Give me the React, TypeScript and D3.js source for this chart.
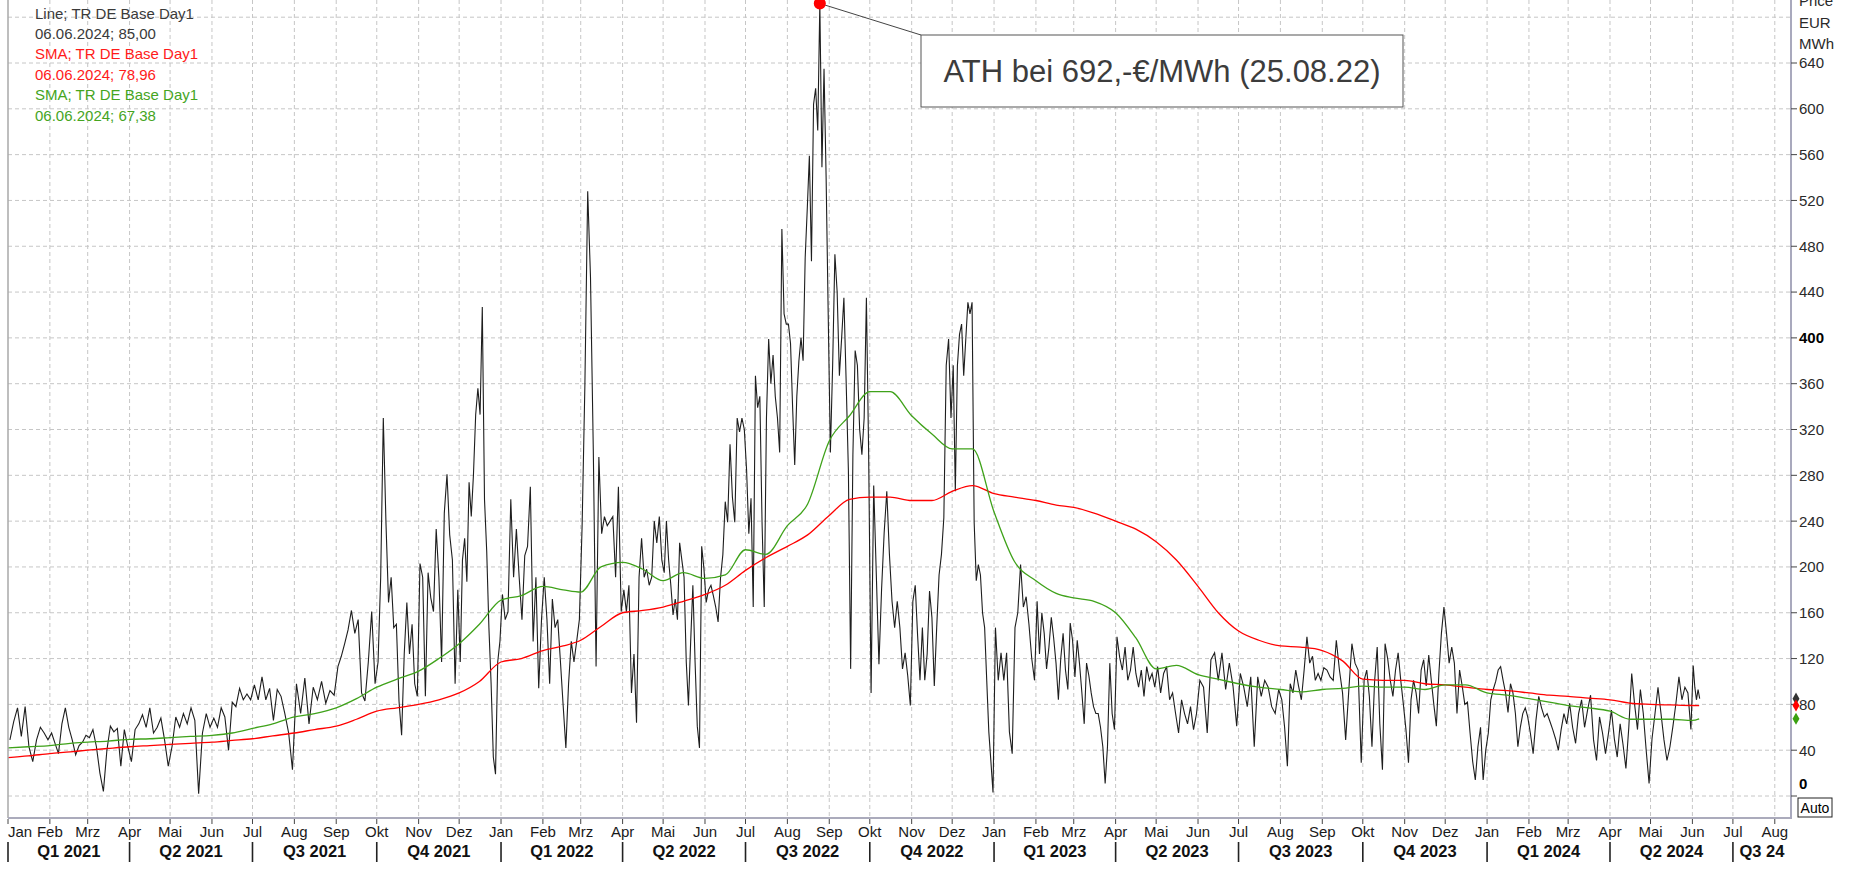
import React, { useEffect, useRef } from "react";
import * as d3 from "d3";

// TR DE Base Day1, daily prices, one list per month (Jan 2021 .. Jun 2024)
const priceStart = "2021-01";
const lastDay = "2024-06-06";
const priceValues: number[][] = [
  // 2021
  [49, 65, 77, 52, 78, 43, 30, 49, 60, 55, 49],
  [55, 46, 37, 63, 77, 60, 49, 36, 44, 47, 53],
  [51, 58, 43, 20, 4, 40, 61, 56, 59, 26, 58, 43],
  [30, 58, 63, 71, 60, 77, 55, 60, 68, 49, 26],
  [43, 69, 60, 72, 63, 77, 66, 2, 55, 72, 60],
  [68, 60, 77, 69, 40, 82, 78, 94, 84, 89, 84],
  [97, 84, 104, 84, 94, 66, 93, 87, 72, 55, 23],
  [98, 72, 103, 63, 95, 84, 100, 81, 92, 88],
  [113, 122, 133, 145, 162, 142, 154, 90, 83, 117, 161, 98],
  [117, 191, 330, 240, 169, 191, 147, 150, 83, 53, 124, 169, 124, 150, 98, 87],
  [203, 191, 87, 195, 173, 161, 233, 191, 117, 247, 281, 228, 206, 98, 180],
  [117, 206, 225, 187, 274, 244, 281, 333, 356, 333, 427, 259, 214, 147, 98, 34, 19, 117, 135],
  // 2022
  [176, 154, 161, 259, 191, 233, 191, 154, 210, 218, 270, 135, 191, 94, 154],
  [191, 154, 98, 172, 147, 154, 117, 79, 42, 98, 135, 117, 135, 154],
  [236, 360, 528, 453, 303, 113, 296, 229, 244, 236, 240, 244, 191, 270, 161],
  [180, 161, 184, 90, 124, 64, 191, 225, 191, 198, 184, 191, 240, 221, 244, 206],
  [195, 240, 206, 184, 158, 172, 154, 221, 206, 191, 117, 79, 135, 184, 117, 61, 42, 218, 199],
  [169, 180, 184, 175, 165, 152, 190, 211, 257, 239, 307, 261, 239, 330, 318, 330, 320],
  [284, 229, 260, 165, 367, 339, 349, 239, 165, 330, 399, 360, 385, 349, 330, 300, 495, 421, 412],
  [412, 395, 339, 289, 349, 380, 400, 380, 470, 513, 559, 467, 604, 618, 581, 692, 549, 635, 540, 420],
  [300, 376, 473, 440, 367, 400, 435, 362, 284, 111, 298, 389, 376, 320, 298, 330, 435, 298],
  [90, 271, 193, 115, 180, 230, 266, 211, 170, 147, 170, 147, 111, 125, 105, 79],
  [170, 184, 140, 101, 147, 101, 124, 179, 156, 96, 147, 193, 211, 243, 376, 399, 330],
  [376, 266, 376, 403, 412, 367, 399, 431, 421, 431, 239, 188, 202, 193, 160, 147, 101, 56, 30, 3],
  // 2023
  [147, 101, 125, 101, 125, 56, 37, 147, 160, 202, 165, 174, 150, 120, 101],
  [170, 124, 160, 142, 111, 130, 156, 138, 116, 84, 120, 142, 110, 93, 151, 136],
  [104, 136, 115, 90, 63, 116, 105, 90, 78, 72, 72, 60, 43, 11, 43, 116, 72, 58],
  [139, 121, 110, 130, 101, 110, 130, 107, 95, 110, 87, 113, 101, 107, 95],
  [113, 90, 107, 113, 84, 90, 72, 55, 84, 72, 63, 78, 58, 72],
  [101, 95, 55, 119, 125, 101, 125, 93, 116, 96, 61],
  [107, 95, 78, 104, 43, 104, 87, 101, 95, 78, 72, 93],
  [84, 60, 26, 98, 90, 110, 96, 84, 110, 139, 116, 122, 101, 107, 101],
  [112, 110, 104, 101, 136, 110, 90, 49, 92, 133, 116, 110, 29],
  [101, 110, 87, 43, 100, 130, 63, 23, 133, 120, 101, 87, 110, 125, 101, 80],
  [58, 29, 84, 101, 90, 72, 110, 119, 96, 123, 101, 80, 61, 107, 142, 165],
  [142, 116, 130, 116, 72, 110, 96, 80, 82, 55, 30, 14, 43, 60, 14, 40],
  // 2024
  [55, 84, 93, 100, 110, 113, 101, 90, 73, 98, 90, 72, 43, 60, 72, 77, 69],
  [55, 37, 66, 87, 77, 69, 72, 65, 58, 50, 40, 58, 72, 63],
  [81, 60, 46, 72, 84, 60, 75, 88, 49, 31, 69, 55, 37, 55],
  [75, 50, 34, 63, 45, 24, 60, 107, 80, 58, 93, 72, 40, 11],
  [50, 72, 95, 72, 49, 31, 43, 61, 81, 104, 84, 95, 90, 58],
  [114, 95, 84, 93, 85],
];

// moving averages, read on the 1st and 16th of each month (last: 01.06. and 06.06.2024)
const smaLong = [
  33.5, 35, 37, 38.5, 40, 41.5, 43, 44, 45, 46, 47, 48.5, 50, 52.5, 55, 58, 61, 67, 74, 77, 80, 84, 90, 100,
  117, 120, 127, 131, 136, 148, 160, 162, 165, 170, 176, 184, 197, 208, 218, 228, 245, 259, 261, 261, 258, 258, 266, 271,
  264, 261, 258, 254, 252, 247, 240, 233, 222, 206, 183, 160, 144, 136, 131, 130, 127, 118, 102, 101, 101, 98, 97, 95,
  93, 92, 90, 88, 87, 85.5, 84, 81, 80, 79.5, 79, 78.96,
];
const smaShort = [
  42, 43, 44, 46, 47, 48, 49.5, 50, 51, 52, 53, 55, 59, 63, 69, 72, 77, 85, 95, 102, 109, 120, 133, 150,
  171, 175, 183, 180, 178, 200, 204, 198, 188, 195, 190, 193, 215, 211, 236, 255, 310, 332, 353, 353, 332, 316, 303, 303,
  248, 205, 188, 177, 173, 170, 160, 138, 111, 114, 106, 102, 98, 95, 93, 91, 93, 94, 96, 95, 95, 93, 97, 97,
  90, 88, 85, 82, 79, 77, 74, 67, 67, 67, 66, 67.38,
];

const seriesNames = ["Line; TR DE Base Day1", "SMA; TR DE Base Day1", "SMA; TR DE Base Day1"];
const seriesLast = ["06.06.2024; 85,00", "06.06.2024; 78,96", "06.06.2024; 67,38"];
const lastValues = [85, 78.96, 67.38];

const monthNames = ["Jan", "Feb", "Mrz", "Apr", "Mai", "Jun", "Jul", "Aug", "Sep", "Okt", "Nov", "Dez"];
const yTicks = [0, 40, 80, 120, 160, 200, 240, 280, 320, 360, 400, 440, 480, 520, 560, 600, 640];
const boldTicks = [0, 400];
const unitLabels = ["Price", "EUR", "MWh"];

const athDate = "2022-08-25";
const athValue = 692;
const athText = "ATH bei 692,-€/MWh (25.08.22)";

const COLORS = ["#3a3a3a", "#ff1a1a", "#45a51e"];
const FONT = "'Liberation Sans', Arial, sans-serif";

const W = 1855;
const H = 890;

const App: React.FC = () => {
  const svgRef = useRef<SVGSVGElement>(null);

  useEffect(() => {
    const left = 8;
    const right = 1791;
    const bottom = 818;

    const svg = d3.select(svgRef.current);
    svg.selectAll("*").remove();

    const x = d3
      .scaleUtc()
      .domain([new Date(Date.UTC(2021, 0, 1)), new Date(Date.UTC(2024, 7, 13))])
      .range([left, right]);
    const y = d3.scaleLinear().domain([0, 640]).range([796, 63]);

    // daily points spread evenly over each month
    const first = d3.utcParse("%Y-%m")(priceStart) as Date;
    const endDay = d3.utcDay.offset(d3.utcParse("%Y-%m-%d")(lastDay) as Date, 1);
    const prices = priceValues.flatMap((vals, i) => {
      const start = d3.utcMonth.offset(first, i);
      const next = d3.utcMonth.offset(start, 1);
      const end = next > endDay ? endDay : next;
      return vals.map((v, j) => ({
        date: new Date(+start + ((j + 0.5) / vals.length) * (+end - +start)),
        value: v,
      }));
    });

    const smaDates = d3
      .utcMonths(first, new Date(Date.UTC(2024, 5, 1)))
      .flatMap((m) => [m, d3.utcDay.offset(m, 15)])
      .concat([new Date(Date.UTC(2024, 5, 1)), d3.utcDay.offset(endDay, -1)]);

    svg.append("rect").attr("width", W).attr("height", H).attr("fill", "#fff");

    // grid
    const grid = svg.append("g").attr("stroke", "#c6c6c6").attr("stroke-dasharray", "4,3");
    [...yTicks, 680].forEach((v) => {
      grid.append("line").attr("x1", left).attr("x2", right).attr("y1", y(v)).attr("y2", y(v));
    });
    const months = d3.utcMonths(first, new Date(Date.UTC(2024, 7, 2)));
    months.slice(1).forEach((m) => {
      grid.append("line").attr("x1", x(m)).attr("x2", x(m)).attr("y1", 0).attr("y2", bottom);
    });

    // series
    svg
      .append("clipPath")
      .attr("id", "plotclip")
      .append("rect")
      .attr("x", left)
      .attr("y", 0)
      .attr("width", right - left)
      .attr("height", bottom);
    const plot = svg.append("g").attr("clip-path", "url(#plotclip)");

    const priceLine = d3
      .line<{ date: Date; value: number }>()
      .x((d) => x(d.date))
      .y((d) => y(d.value));
    plot
      .append("path")
      .datum(prices)
      .attr("d", priceLine)
      .attr("fill", "none")
      .attr("stroke", "#1e1e1e")
      .attr("stroke-width", 1.1);

    const smaLine = d3
      .line<number>()
      .curve(d3.curveMonotoneX)
      .x((_, i) => x(smaDates[i]))
      .y((d) => y(d));
    [smaLong, smaShort].forEach((vals, k) => {
      plot
        .append("path")
        .datum(vals)
        .attr("d", smaLine)
        .attr("fill", "none")
        .attr("stroke", k === 0 ? "#ff0000" : "#3fa21a")
        .attr("stroke-width", 1.3);
    });

    // frame
    svg.append("line").attr("x1", left).attr("x2", left).attr("y1", 0).attr("y2", bottom)
      .attr("stroke", "#a8a8a8").attr("stroke-width", 1.5);
    svg.append("line").attr("x1", left).attr("x2", right).attr("y1", bottom).attr("y2", bottom)
      .attr("stroke", "#ababbc").attr("stroke-width", 2);
    svg.append("line").attr("x1", right).attr("x2", right).attr("y1", 0).attr("y2", bottom + 1)
      .attr("stroke", "#a9a9bd").attr("stroke-width", 2);

    // right axis
    const yAxis = svg.append("g").attr("font-family", FONT).attr("font-size", 15);
    yTicks.forEach((v) => {
      yAxis.append("line").attr("x1", right).attr("x2", right + 6).attr("y1", y(v)).attr("y2", y(v))
        .attr("stroke", "#444");
      const bold = boldTicks.includes(v);
      yAxis
        .append("text")
        .attr("x", right + 8)
        .attr("y", v === 0 ? y(v) - 12 : y(v))
        .attr("dy", "0.36em")
        .attr("fill", bold ? "#000" : "#2a2a2a")
        .attr("font-weight", bold ? "bold" : "normal")
        .text(v);
    });
    unitLabels.forEach((t, i) => {
      yAxis.append("text").attr("x", right + 8).attr("y", 6 + i * 21.5).attr("fill", "#2a2a2a").text(t);
    });

    // bottom axis: months
    const xAxis = svg.append("g").attr("font-family", FONT).attr("fill", "#1a1a1a");
    months.forEach((m) => {
      const mx = x(m);
      xAxis.append("line").attr("x1", mx).attr("x2", mx).attr("y1", bottom + 1).attr("y2", bottom + 6)
        .attr("stroke", "#444");
      const atEdge = mx - 13 < left;
      xAxis
        .append("text")
        .attr("x", atEdge ? left : mx)
        .attr("y", bottom + 19)
        .attr("font-size", 15)
        .attr("text-anchor", atEdge ? "start" : "middle")
        .text(monthNames[m.getUTCMonth()]);
    });

    // bottom axis: quarters
    const [d0, d1] = x.domain();
    d3.utcMonths(first, new Date(Date.UTC(2024, 7, 1)), 3).forEach((q) => {
      const qEnd = d3.utcMonth.offset(q, 3);
      const qx0 = x(q);
      const qx1 = x(qEnd > d1 ? d1 : qEnd);
      xAxis.append("line").attr("x1", qx0).attr("x2", qx0).attr("y1", bottom + 24).attr("y2", bottom + 44)
        .attr("stroke", "#222").attr("stroke-width", 1.6);
      const qn = Math.floor(q.getUTCMonth() / 3) + 1;
      const yr = q.getUTCFullYear();
      const label = qx1 - qx0 < 80 ? `Q${qn} ${String(yr).slice(2)}` : `Q${qn} ${yr}`;
      xAxis
        .append("text")
        .attr("x", (Math.max(qx0, x(d0)) + qx1) / 2)
        .attr("y", bottom + 39)
        .attr("font-size", 16.5)
        .attr("font-weight", "bold")
        .attr("text-anchor", "middle")
        .attr("fill", "#111")
        .text(label);
    });

    // legend
    const legend = svg.append("g").attr("font-family", FONT).attr("font-size", 15);
    seriesNames.forEach((name, i) => {
      legend.append("text").attr("x", 35).attr("y", 18.5 + i * 40.8).attr("fill", COLORS[i]).text(name);
      legend.append("text").attr("x", 35).attr("y", 38.9 + i * 40.8).attr("fill", COLORS[i]).text(seriesLast[i]);
    });

    // last value markers
    const diamond = d3.symbol().type(d3.symbolDiamond).size(42);
    lastValues.forEach((v, i) => {
      svg
        .append("path")
        .attr("d", diamond())
        .attr("transform", `translate(${right + 5},${y(v)})`)
        .attr("fill", i === 0 ? "#333" : i === 1 ? "#ff0000" : "#3aa010");
    });

    // "Auto" box
    svg.append("rect").attr("x", right + 7).attr("y", 798).attr("width", 34).attr("height", 19)
      .attr("fill", "#fff").attr("stroke", "#222");
    svg.append("text").attr("x", right + 24).attr("y", 808).attr("dy", "0.36em").attr("text-anchor", "middle")
      .attr("font-family", FONT).attr("font-size", 14).attr("fill", "#000").text("Auto");

    // ATH annotation
    const ax = x(d3.utcParse("%Y-%m-%d")(athDate) as Date);
    const ay = y(athValue);
    const box = { x: 921, y: 35, w: 482, h: 72 };
    svg.append("line").attr("x1", ax).attr("y1", ay).attr("x2", box.x).attr("y2", box.y)
      .attr("stroke", "#444").attr("stroke-width", 1);
    svg.append("rect").attr("x", box.x).attr("y", box.y).attr("width", box.w).attr("height", box.h)
      .attr("fill", "#fff").attr("stroke", "#555");
    svg
      .append("text")
      .attr("x", box.x + box.w / 2)
      .attr("y", box.y + box.h / 2)
      .attr("dy", "0.36em")
      .attr("text-anchor", "middle")
      .attr("font-family", FONT)
      .attr("font-size", 31)
      .attr("fill", "#3c3c3c")
      .text(athText);
    svg.append("circle").attr("cx", ax).attr("cy", ay).attr("r", 6).attr("fill", "#ff0000");
  }, []);

  return (
    <svg
      ref={svgRef}
      width={W}
      height={H}
      style={{ position: "absolute", left: 0, top: 0, display: "block" }}
    />
  );
};

export default App;
